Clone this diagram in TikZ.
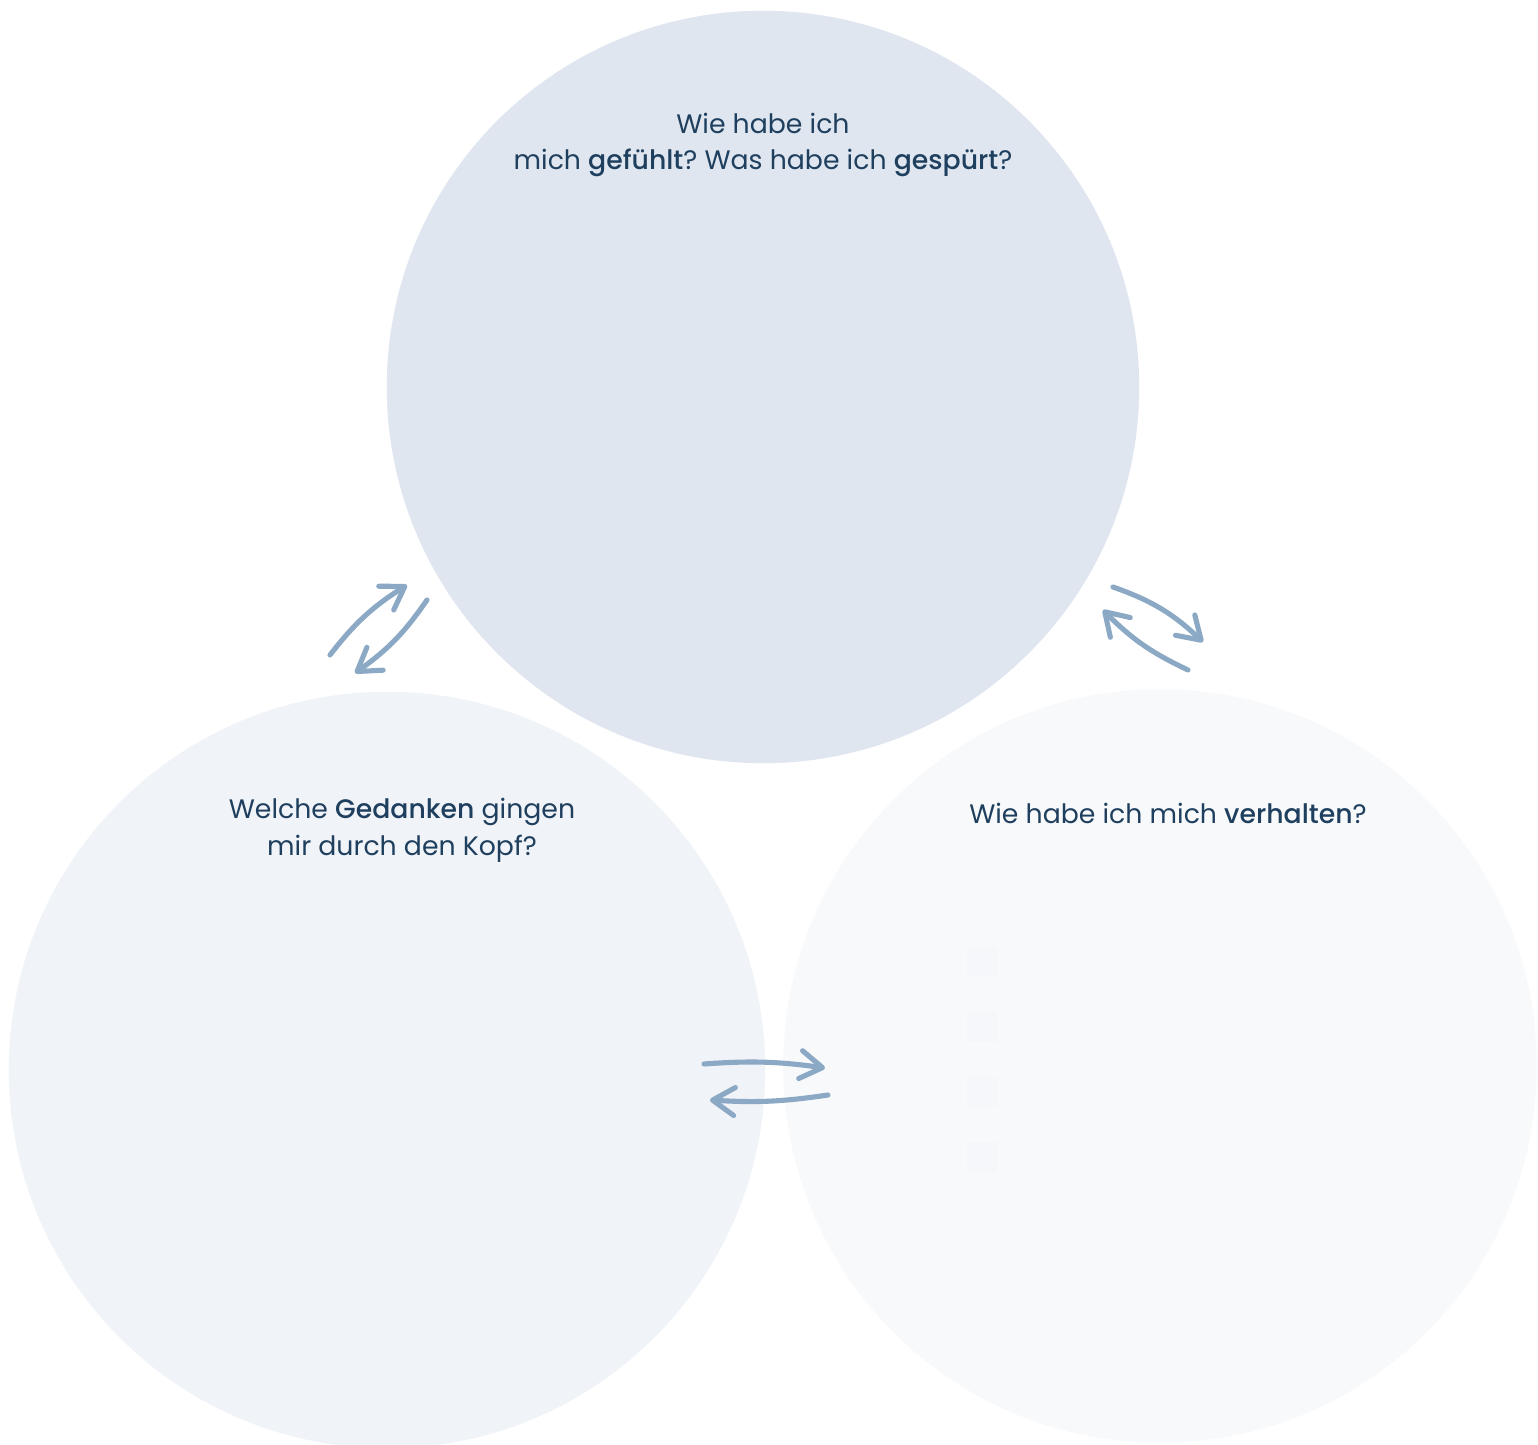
\documentclass[tikz,border=0pt]{standalone}
\usepackage{fontspec}
\setmainfont{Poppins}[BoldFont={Poppins Medium}]
\usetikzlibrary{arrows.meta, positioning}
\frenchspacing
\definecolor{topfill}{HTML}{DFE6EF}
\definecolor{leftfill}{HTML}{F0F3F7}
\definecolor{rightfill}{HTML}{F7F9FB}
\definecolor{faintbox}{HTML}{F5F7FA}
\definecolor{txtblue}{HTML}{1F3F5E}
\definecolor{arrowblue}{HTML}{8BA9C5}
\tikzset{
  bubble/.style={circle, draw=none, inner sep=0pt},
  question/.style={font=\fontsize{7.6}{10.2}\selectfont, text=txtblue, align=center, inner sep=0pt},
  cycle/.style={draw=arrowblue, line width=1.45pt, line cap=round,
                -{Straight Barb[length=2.2mm, width=2.8mm, line cap=round, line join=round]}},
  checkbox/.style={rectangle, fill=faintbox, minimum size=0.3cm, inner sep=0pt},
}
\begin{document}
\begin{tikzpicture}[x=0.01cm, y=0.01cm]
  \useasboundingbox (0,0) rectangle (1538,1445);
  \fill[white] (0,0) rectangle (1538,1445);
  % three circles
  \node[bubble, fill=topfill, minimum size=7.52cm] (feel) at (763,1058) {};
  \node[bubble, fill=leftfill, minimum size=7.56cm] (think) at (387,375) {};
  \node[bubble, fill=rightfill, minimum size=7.53cm] (act) at (1160,379) {};
  % faint boxes
  \foreach \i [count=\n] in {483,418,353,288}
    \node[checkbox] (box\n) at (982,\i) {};
  % questions
  \node[question] (feeltext) at (763,1300) {Wie habe ich\\mich \textbf{gefühlt}? Was habe ich \textbf{gespürt}?};
  \node[question, font=\fontsize{7.6}{10.6}\selectfont] (thinktext) at (402,615) {Welche \textbf{Gedanken} gingen\\mir durch den Kopf?};
  \node[question] (acttext) at (1168,632) {Wie habe ich mich \textbf{verhalten}?};
  % arrow end points
  \coordinate (a1) at (330,790);  \coordinate (a2) at (407,860);
  \coordinate (b1) at (427,845);  \coordinate (b2) at (355,772);
  \coordinate (c1) at (1113,858); \coordinate (c2) at (1203,803);
  \coordinate (d1) at (1188,775); \coordinate (d2) at (1103,835);
  \coordinate (e1) at (704,381);  \coordinate (e2) at (825,377);
  \coordinate (f1) at (828,350);  \coordinate (f2) at (710,345);
  % arrows
  \draw[cycle] (a1) to[bend left=10] (a2);
  \draw[cycle] (b1) to[bend left=10] (b2);
  \draw[cycle] (c1) to[bend left=12] (c2);
  \draw[cycle] (d1) to[bend left=10] (d2);
  \draw[cycle] (e1) to[bend left=6] (e2);
  \draw[cycle] (f1) to[bend left=6] (f2);
\end{tikzpicture}
\end{document}
